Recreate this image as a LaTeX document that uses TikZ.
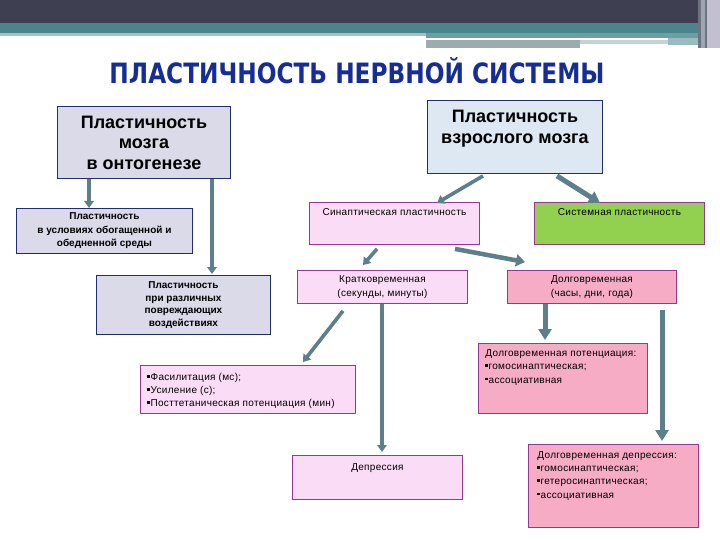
\documentclass[tikz,border=0pt]{standalone}
\usepackage{fontspec}
\setmainfont{Liberation Sans}
\newfontfamily\titlefont{DejaVu Sans}
\newfontfamily\smf{Liberation Sans}[LetterSpace=3]
\usetikzlibrary{arrows.meta,calc}
\definecolor{topdark}{RGB}{62,64,82}
\definecolor{topteal}{RGB}{72,134,140}
\definecolor{toplight}{RGB}{172,190,196}
\definecolor{titleblue}{RGB}{22,45,150}
\definecolor{navy}{RGB}{35,45,110}
\definecolor{purp}{RGB}{150,55,150}
\definecolor{grayfill}{RGB}{218,218,232}
\definecolor{bluefill}{RGB}{221,232,242}
\definecolor{lpink}{RGB}{251,220,246}
\definecolor{dpink}{RGB}{246,172,196}
\definecolor{sgreen}{RGB}{146,208,80}
\definecolor{arrcol}{RGB}{92,128,138}
\definecolor{stripA}{RGB}{110,115,132}
\definecolor{stripB}{RGB}{160,165,178}
\definecolor{stripC}{RGB}{192,192,206}
\newcommand{\tbx}[4]{\parbox[c][#2][t]{#1}{\vspace*{#3}#4}}
\newcommand{\cbx}[3]{\parbox[c][#2][c]{#1}{#3}}
\newcommand{\bul}{\rule[3pt]{2.6pt}{2.6pt}\hspace{0.6pt}}
\begin{document}
\begin{tikzpicture}[x=1pt,y=-1pt,
  bx/.style={draw, line width=0.9pt, inner sep=0pt, anchor=north west},
  navybox/.style={bx, draw=navy},
  purpbox/.style={bx, draw=purp},
  arr/.style={draw=arrcol, line width=3.2pt, -{Triangle[length=7pt,width=9.5pt]}},
  bigarr/.style={draw=arrcol, line width=5pt, -{Triangle[length=11pt,width=13pt]}}]
\useasboundingbox (0,0) rectangle (720,540);
\fill[white] (0,0) rectangle (720,540);
% top decoration
\fill[topdark] (0,0) rectangle (698,23);
\fill[topteal] (0,23) rectangle (698,33);
\fill[toplight] (0,33) rectangle (426,36);
\fill[topteal!80!white] (426,33) rectangle (698,38);
\fill[white] (426,38) rectangle (668,40);
\fill[toplight!90!black] (426,40) rectangle (580,48);
\fill[toplight!70!white] (580,40) rectangle (668,44);
\fill[topteal!55!white] (668,38) rectangle (698,45);
\fill[stripA] (698,0) rectangle (701,48);
\fill[stripB] (701,0) rectangle (705,48);
\fill[stripA] (705,0) rectangle (707,48);
\fill[stripC] (707,0) rectangle (720,48);
% title
\node[text=titleblue, inner sep=0pt, anchor=base] (title) at (357,84)
  {\titlefont\bfseries\fontsize{28}{30}\selectfont\resizebox{495pt}{\height}{ПЛАСТИЧНОСТЬ НЕРВНОЙ СИСТЕМЫ}};
% left branch
\node[navybox, fill=grayfill] (onto) at (57,106)
  {\cbx{173pt}{72pt}{\centering\bfseries\fontsize{18}{20.5}\selectfont Пластичность\\ мозга\\ в онтогенезе}};
\node[navybox, fill=grayfill] (env) at (16,208)
  {\cbx{176pt}{45pt}{\centering\bfseries\fontsize{10}{13.5}\selectfont Пластичность\\ в условиях обогащенной и\\ обедненной среды}};
\node[navybox, fill=grayfill] (dmg) at (96,275)
  {\cbx{174pt}{59pt}{\centering\bfseries\fontsize{10}{12.5}\selectfont Пластичность\\ при различных\\ повреждающих\\ воздействиях}};
% right branch
\node[navybox, fill=bluefill] (adult) at (427,100)
  {\tbx{175pt}{73pt}{10pt}{\centering\bfseries\fontsize{18}{21}\selectfont Пластичность\\ взрослого мозга}};
\node[purpbox, fill=lpink] (syn) at (309,202)
  {\tbx{170pt}{42pt}{6.5pt}{\centering\smf\fontsize{10}{13}\selectfont Синаптическая пластичность}};
\node[purpbox, fill=sgreen] (sys) at (534,202)
  {\tbx{170pt}{42pt}{6.5pt}{\centering\smf\fontsize{10}{13}\selectfont Системная пластичность}};
\node[purpbox, fill=lpink] (short) at (297,270)
  {\cbx{170pt}{33pt}{\centering\smf\fontsize{10}{14}\selectfont Кратковременная\\ (секунды, минуты)}};
\node[purpbox, fill=dpink] (long) at (507,270)
  {\cbx{169pt}{33pt}{\centering\smf\fontsize{10}{14}\selectfont Долговременная\\ (часы, дни, года)}};
\node[purpbox, fill=lpink] (fac) at (140,365)
  {\tbx{215pt}{48pt}{8pt}{\raggedright\leftskip=7pt\smf\fontsize{10}{13}\selectfont \bul Фасилитация (мс);\\ \bul Усиление (с);\\ \bul Посттетаническая потенциация (мин)}};
\node[purpbox, fill=lpink] (depr) at (292,455)
  {\tbx{170pt}{44pt}{8pt}{\centering\smf\fontsize{10}{13}\selectfont Депрессия}};
\node[purpbox, fill=dpink] (ltp) at (478,343)
  {\tbx{169pt}{70pt}{6pt}{\raggedright\leftskip=7pt\smf\fontsize{10}{13.5}\selectfont Долговременная потенциация:\\ \bul гомосинаптическая;\\ \bul ассоциативная}};
\node[purpbox, fill=dpink] (ltd) at (528,444)
  {\tbx{170pt}{83pt}{7pt}{\raggedright\leftskip=9pt\smf\fontsize{10}{13.3}\selectfont Долговременная депрессия:\\ \bul гомосинаптическая;\\ \bul гетеросинаптическая;\\ \bul ассоциативная}};
% connectors
\draw[arr] ($(onto.south west)+(32,0)$) -- ($(env.north west)+(73,0)$);
\draw[arr] ($(onto.south west)+(155,0)$) -- ($(dmg.north west)+(116,-1)$);
\draw[arr, line width=3.6pt] ($(adult.south west)+(56,2)$) -- ($(syn.north west)+(128,1)$);
\draw[bigarr] ($(adult.south west)+(130,2)$) -- ($(sys.north west)+(66,1)$);
\draw[arr, line width=3.6pt] ($(syn.south west)+(68,4)$) -- ($(short.north west)+(66,-5)$);
\draw[bigarr, line width=4.5pt, -{Triangle[length=9pt,width=12pt]}] ($(syn.south west)+(146,4)$) -- ($(long.north west)+(18,-8)$);
\draw[arr, line width=3.6pt] ($(short.south west)+(85,0)$) -- ($(depr.north west)+(90,-3)$);
\draw[arr, line width=3.6pt] ($(short.south west)+(46,7)$) -- ($(fac.north west)+(163,-3)$);
\draw[bigarr] ($(long.south west)+(38,0)$) -- ($(ltp.north west)+(67,-3)$);
\draw[bigarr] ($(long.south west)+(155,6)$) -- ($(ltd.north west)+(134,-3)$);
\end{tikzpicture}
\end{document}
